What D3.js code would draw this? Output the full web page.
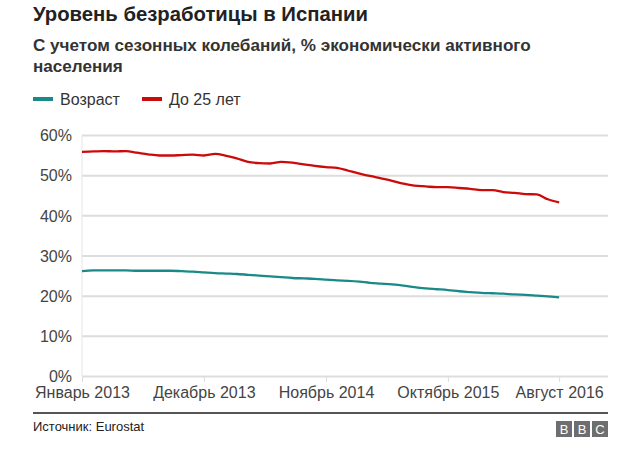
<!DOCTYPE html>
<html><head><meta charset="utf-8">
<script src="https://cdn.jsdelivr.net/npm/d3@7/dist/d3.min.js"></script>
<style>body{margin:0;background:#fff}svg{display:block;font-family:"Liberation Sans",Arial,Helvetica,sans-serif}</style>
</head><body><svg id="c" width="640" height="475"></svg>
<script>
const seriesNames = ["Возраст", "До 25 лет"];
const seriesColors = ["#198a87", "#cc0a0a"];
const startMonth = "2013-01";
const total = [26.1,26.3,26.3,26.3,26.3,26.2,26.2,26.2,26.2,26.1,26.0,25.8,25.6,25.5,25.4,25.2,25.0,24.8,24.6,24.4,24.3,24.2,24.0,23.8,23.7,23.5,23.2,23.0,22.8,22.5,22.1,21.8,21.6,21.4,21.1,20.9,20.7,20.6,20.5,20.3,20.2,20.0,19.8,19.6];
const youth = [55.8,55.9,56.0,55.9,56.0,55.6,55.2,54.9,54.9,55.0,55.1,54.9,55.3,54.8,54.2,53.3,53.0,52.9,53.3,53.1,52.7,52.3,52.0,51.8,51.1,50.4,49.8,49.2,48.6,47.9,47.4,47.2,47.0,47.0,46.8,46.6,46.3,46.3,45.8,45.6,45.3,45.2,44.0,43.2];
const xTickLabels = ["Январь 2013","Декабрь 2013","Ноябрь 2014","Октябрь 2015","Август 2016"];
const xTickDates = ["2013-01","2013-12","2014-11","2015-10","2016-08"];
const yTicks = [0,10,20,30,40,50,60];

const parse = d3.timeParse("%Y-%m");
const t0 = parse(startMonth);
const dates = total.map((_, i) => d3.timeMonth.offset(t0, i));
const svg = d3.select("#c");
const L = 82, R = 608, T = 135, B = 376;
const x = d3.scaleTime().domain([t0, d3.timeDay.offset(d3.timeMonth.offset(t0, 47), 12)]).range([L, R]);
const y = d3.scaleLinear().domain([0, 60]).range([B, T]);

svg.append("text").attr("x", 33).attr("y", 21).attr("font-size", 20.3).attr("font-weight", "bold").attr("fill", "#222").text("Уровень безработицы в Испании");
svg.append("text").attr("x", 33).attr("y", 51).attr("font-size", 17.1).attr("font-weight", "bold").attr("fill", "#333").text("С учетом сезонных колебаний, % экономически активного");
svg.append("text").attr("x", 33).attr("y", 72).attr("font-size", 17.1).attr("font-weight", "bold").attr("fill", "#333").text("населения");

seriesNames.forEach((n, i) => {
  const lx = i === 0 ? 33 : 142;
  svg.append("rect").attr("x", lx).attr("y", 97).attr("width", 20).attr("height", 4).attr("fill", seriesColors[i]);
  svg.append("text").attr("x", lx + 27).attr("y", 105).attr("font-size", 16).attr("fill", "#333").text(n);
});

// grid
const yAxis = d3.axisLeft(y).tickValues(yTicks).tickSize(-(R - L)).tickFormat(d => d + "%");
const gy = svg.append("g").attr("transform", `translate(${L},0)`).call(yAxis);
gy.select(".domain").remove();
gy.selectAll(".tick line").attr("stroke", "#dddddd").attr("stroke-width", 2);
gy.selectAll(".tick text").attr("x", -10).attr("dy", "0.36em").attr("font-size", 16).attr("fill", "#444").attr("font-family", "Liberation Sans, Arial, sans-serif");
svg.append("line").attr("x1", L).attr("x2", L).attr("y1", T).attr("y2", B).attr("stroke", "#e6e6e6").attr("stroke-width", 1);

const xAxis = d3.axisBottom(x).tickValues(xTickDates.map(parse)).tickSize(6).tickFormat((d, i) => xTickLabels[i]);
const gx = svg.append("g").attr("transform", `translate(0,${B})`).call(xAxis);
gx.select(".domain").remove();
gx.selectAll(".tick line").attr("stroke", "#dddddd");
gx.selectAll(".tick text").attr("y", 11).attr("font-size", 16).attr("fill", "#444").attr("font-family", "Liberation Sans, Arial, sans-serif");

const line = d3.line().x((d, i) => x(dates[i])).y(d => y(d)).curve(d3.curveMonotoneX);
[total, youth].forEach((s, i) => {
  svg.append("path").datum(s).attr("d", line).attr("fill", "none").attr("stroke", seriesColors[i]).attr("stroke-width", 2.3);
});

// footer
svg.append("line").attr("x1", 33).attr("x2", 608).attr("y1", 413).attr("y2", 413).attr("stroke", "#555").attr("stroke-width", 2);
svg.append("text").attr("x", 33).attr("y", 431).attr("font-size", 13).attr("fill", "#222").text("Источник: Eurostat");
["B","B","C"].forEach((c, i) => {
  const bx = 556 + i * 18;
  svg.append("rect").attr("x", bx).attr("y", 421).attr("width", 16).attr("height", 16).attr("fill", "#6e6e6e");
  svg.append("text").attr("x", bx + 8).attr("y", 434).attr("text-anchor", "middle").attr("font-size", 13).attr("fill", "#fff").text(c);
});
</script></body></html>
